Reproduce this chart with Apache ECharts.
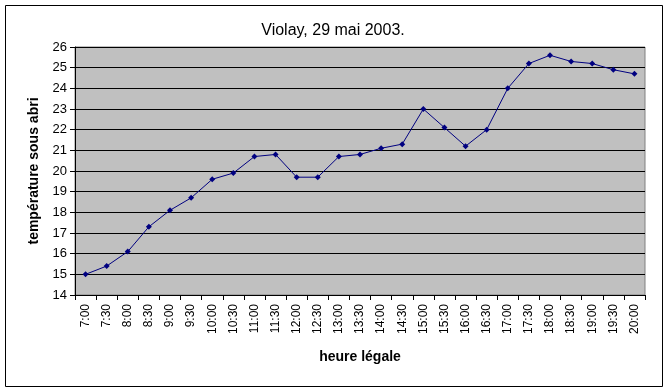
<!DOCTYPE html>
<html>
<head>
<meta charset="utf-8">
<script src="https://cdn.jsdelivr.net/npm/echarts@6/dist/echarts.min.js"></script>
<style>
html,body{margin:0;padding:0;background:#fff;}
#c{width:666px;height:390px;}
</style>
</head>
<body>
<div id="c"></div>
<script>
const categories = ['7:00','7:30','8:00','8:30','9:00','9:30','10:00','10:30','11:00','11:30','12:00','12:30','13:00','13:30','14:00','14:30','15:00','15:30','16:00','16:30','17:00','17:30','18:00','18:30','19:00','19:30','20:00'];
const temperatures = [15.0,15.4,16.1,17.3,18.1,18.7,19.6,19.9,20.7,20.8,19.7,19.7,20.7,20.8,21.1,21.3,23.0,22.1,21.2,22.0,24.0,25.2,25.6,25.3,25.2,24.9,24.7];
const titleText = 'Violay, 29 mai 2003.';
const xName = 'heure légale';
const yName = 'température sous abri';

const chart = echarts.init(document.getElementById('c'), null, {renderer:'canvas'});
const font = '"Liberation Sans", Arial, sans-serif';
chart.setOption({
  animation:false,
  backgroundColor:'#ffffff',
  textStyle:{fontFamily:font},
  title:{
    text:titleText, left:'center', top:18,
    textStyle:{fontFamily:font, fontSize:16, fontWeight:'normal', color:'#000'}
  },
  graphic:[{
    type:'rect', left:3, top:3, z:-1,
    shape:{x:0,y:0,width:657,height:381},
    style:{fill:null, stroke:'#000', lineWidth:1}
  }],
  grid:{
    left:75, right:21, top:47, bottom:95,
    show:true, backgroundColor:'#C0C0C0', borderColor:'#808080', borderWidth:1
  },
  xAxis:{
    type:'category', data:categories, boundaryGap:true,
    name:xName, nameLocation:'middle', nameGap:55,
    nameTextStyle:{fontFamily:font, fontSize:14, fontWeight:'bold', color:'#000'},
    axisLine:{lineStyle:{color:'#000', width:1}},
    axisTick:{show:true, alignWithLabel:false, length:5, lineStyle:{color:'#000'}},
    axisLabel:{rotate:90, fontFamily:font, fontSize:12, color:'#000', margin:9, interval:0},
    splitLine:{show:false}
  },
  yAxis:{
    type:'value', min:14, max:26, interval:1,
    name:yName, nameLocation:'middle', nameGap:33,
    nameTextStyle:{fontFamily:font, fontSize:14, fontWeight:'bold', color:'#000'},
    axisLine:{show:true, lineStyle:{color:'#000', width:1}},
    axisTick:{show:true, length:5, lineStyle:{color:'#000'}},
    axisLabel:{fontFamily:font, fontSize:13, color:'#000', margin:8},
    splitLine:{show:true, lineStyle:{color:'#000', width:1}}
  },
  series:[{
    type:'line', data:temperatures,
    symbol:'diamond', symbolSize:6,
    lineStyle:{color:'#000080', width:1},
    itemStyle:{color:'#000080'}
  }]
});
</script>
</body>
</html>
